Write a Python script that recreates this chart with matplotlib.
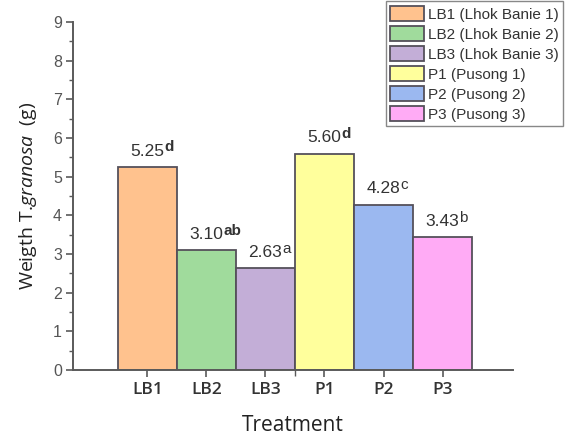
import matplotlib
matplotlib.use("Agg")
import matplotlib.pyplot as plt
from matplotlib.patches import Patch
from matplotlib.ticker import MultipleLocator, FixedLocator

# data
treatments = ["LB1", "LB2", "LB3", "P1", "P2", "P3"]
legend_names = ["LB1 (Lhok Banie 1)", "LB2 (Lhok Banie 2)", "LB3 (Lhok Banie 3)",
                "P1 (Pusong 1)", "P2 (Pusong 2)", "P3 (Pusong 3)"]
weights = [5.25, 3.10, 2.63, 5.60, 4.28, 3.43]
groups = ["d", "ab", "a", "d", "c", "b"]
group_bold = [True, True, False, True, False, False]

colors = ["#FFC28E", "#A0DB9C", "#C3AED7", "#FFFF9C", "#9BB8F0", "#FFABF5"]
edge = "#55505a"
axis_col = "#5a5a5a"

plt.rcParams["mathtext.fontset"] = "custom"
plt.rcParams["mathtext.rm"] = "Open Sans"
plt.rcParams["mathtext.it"] = "Open Sans:italic"

fig = plt.figure(figsize=(5.66, 4.43), dpi=100)
ax = fig.add_axes([0.129, 0.165, 0.777, 0.785])

x = list(range(len(treatments)))
ax.bar(x, weights, width=1.0, color=colors, edgecolor=edge, linewidth=1.3, zorder=2)

# value labels with significance letters
for xi, v, g, b in zip(x, weights, groups, group_bold):
    num = ax.annotate(f"{v:.2f}", xy=(xi, v), xytext=(0, 8), textcoords="offset points",
                      ha="center", va="baseline", fontsize=12.5,
                      family="Liberation Sans", color="#333333")
    ax.annotate(g, xy=(1.0, 0.5), xycoords=num, ha="left", va="baseline",
                fontsize=11, family="Liberation Sans",
                fontweight="bold" if b else "normal", color="#333333")

ax.set_xlim(-1.26, 6.19)
ax.set_ylim(0, 9)

ax.spines["top"].set_visible(False)
ax.spines["right"].set_visible(False)
for s in ("left", "bottom"):
    ax.spines[s].set_color(axis_col)
    ax.spines[s].set_linewidth(1.4)

ax.yaxis.set_major_locator(MultipleLocator(1))
ax.yaxis.set_minor_locator(MultipleLocator(0.5))
ax.tick_params(axis="y", which="major", length=5, width=1.2, color=axis_col,
               labelsize=11.5, labelcolor="#555555", pad=3)
ax.tick_params(axis="y", which="minor", length=3, width=1.0, color=axis_col)
for lab in ax.get_yticklabels():
    lab.set_family("Liberation Sans")

ax.set_xticks(x)
ax.set_xticklabels(treatments, family="Open Sans", fontweight="semibold")
ax.xaxis.set_minor_locator(FixedLocator([2.5]))
ax.tick_params(axis="x", which="major", length=5, width=1.2, color=axis_col,
               labelsize=12.5, labelcolor="#333333", pad=4)
ax.tick_params(axis="x", which="minor", length=4, width=1.0, color=axis_col)

ax.set_xlabel("Treatment", family="Open Sans", fontsize=15, color="#222222", labelpad=12)
ax.set_ylabel(r"Weigth T.$\it{granosa}$  (g)", family="Open Sans", fontsize=14,
              color="#222222", labelpad=10)

handles = [Patch(facecolor=c, edgecolor=edge, linewidth=1.3) for c in colors]
leg = ax.legend(handles, legend_names, loc="upper right", bbox_to_anchor=(0.995, 0.997),
                bbox_transform=fig.transFigure, fancybox=False, framealpha=1,
                edgecolor="#888888", handlelength=2.2, handleheight=1.15,
                handletextpad=0.25, labelspacing=0.28, borderpad=0.3,
                borderaxespad=0, prop={"family": "Liberation Sans", "size": 11})
for t in leg.get_texts():
    t.set_color("#333333")
leg.get_frame().set_linewidth(1.0)

fig.savefig("out.png", dpi=100)
